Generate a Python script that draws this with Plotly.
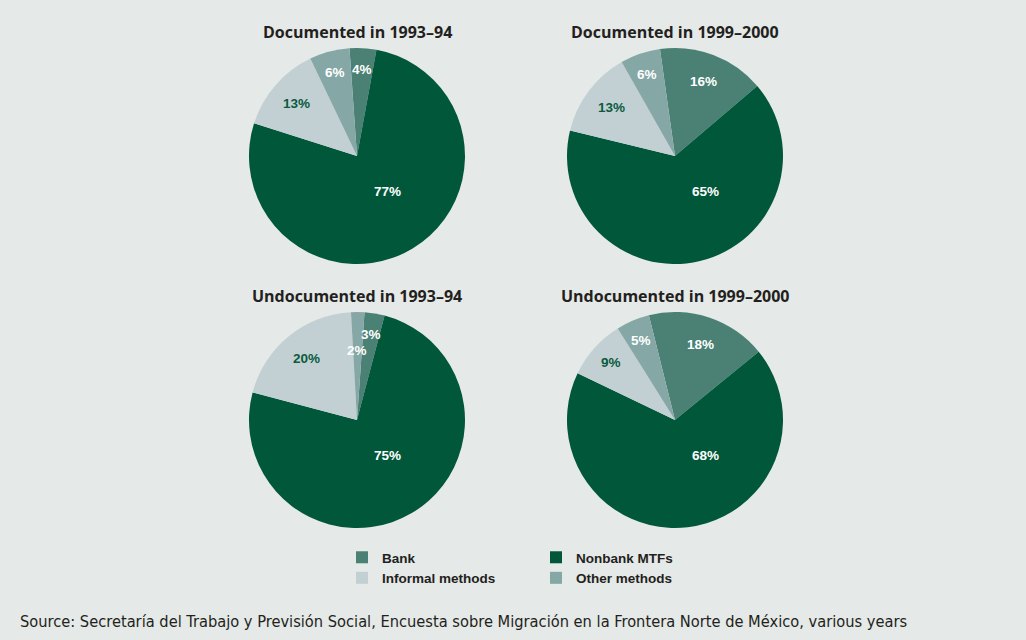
import math
import plotly.graph_objects as go

# Canvas and plot-area geometry (pixels)
W, H = 1026, 640
ML, MR, MT, MB = 249, 243, 0, 0
PW, PH = W - ML - MR, H - MT - MB

# ---- data -------------------------------------------------------------
categories = ["Bank", "Nonbank MTFs", "Informal methods", "Other methods"]
panel_titles = [
    "Documented in 1993–94",
    "Documented in 1999–2000",
    "Undocumented in 1993–94",
    "Undocumented in 1999–2000",
]
doc_1993_94 = [4, 77, 13, 6]
doc_1999_2000 = [16, 65, 13, 6]
undoc_1993_94 = [3, 75, 20, 2]
undoc_1999_2000 = [18, 68, 9, 5]
source_note = ("Source: Secretaría del Trabajo y Previsión Social, Encuesta sobre "
               "Migración en la Frontera Norte de México, various years")

# ---- styling ----------------------------------------------------------
BG = "#e5e9e7"
INK = "#231f20"
slice_colors = ["#4a8174", "#00573a", "#c2d0d4", "#85a7a6"]
label_colors = ["#ffffff", "#ffffff", "#0b5b3e", "#ffffff"]
FONT = "Liberation Sans, Arial, sans-serif"
TITLE_FONT = "Open Sans, Liberation Sans, sans-serif"

# pie boxes: left/top pixel corner, common diameter, start rotation
PIE_D = 216
PIE_R = PIE_D / 2
pie_boxes = [(249, 48), (567, 48), (249, 312), (567, 312)]
rotations = [-4, -8, 4, -14]
TITLE_GAP = 16            # title centre sits this far above the pie's top
MAJOR_LABEL_OFFSET = (30, 35)   # label spot for the dominant slice


def px_x(x):
    return (x - ML) / PW


def px_y(y):
    return 1 - (y - MT) / PH


series = [doc_1993_94, doc_1999_2000, undoc_1993_94, undoc_1999_2000]

fig = go.Figure()
for i, (vals, title, (bx, by), rot) in enumerate(zip(series, panel_titles, pie_boxes, rotations)):
    fig.add_trace(go.Pie(
        labels=categories,
        values=vals,
        sort=False,
        direction="clockwise",
        rotation=rot,
        marker=dict(colors=slice_colors, line=dict(width=0)),
        textinfo="none",
        domain=dict(x=[px_x(bx), px_x(bx + PIE_D)], y=[px_y(by + PIE_D), px_y(by)]),
        hoverinfo="skip",
        showlegend=(i == 0),
    ))

    cx, cy = bx + PIE_R, by + PIE_R
    fig.add_annotation(
        text=title, xref="paper", yref="paper",
        x=px_x(cx), y=px_y(by - TITLE_GAP), xanchor="center", yanchor="middle",
        showarrow=False,
        font=dict(family=TITLE_FONT, size=16, color=INK, weight="bold"),
    )

    # percentage labels at each slice's mid-angle
    total = sum(vals)
    biggest = vals.index(max(vals))
    cum = 0
    for j, v in enumerate(vals):
        mid = math.radians(rot + 360 * (cum + v / 2) / total)
        cum += v
        if j == biggest:
            dx, dy = MAJOR_LABEL_OFFSET
        else:
            rf = 0.64 if v < 3 else (0.80 if v < 12 else 0.74)
            dx, dy = rf * PIE_R * math.sin(mid), -rf * PIE_R * math.cos(mid)
        fig.add_annotation(
            text=f"{v}%", xref="paper", yref="paper",
            x=px_x(cx + dx), y=px_y(cy + dy), xanchor="center", yanchor="middle",
            showarrow=False,
            font=dict(family=FONT, size=13.5, color=label_colors[j], weight="bold"),
        )

fig.add_annotation(
    text=source_note, xref="paper", yref="paper",
    x=px_x(18), y=px_y(621), xanchor="left", yanchor="middle",
    showarrow=False, font=dict(family="Liberation Sans Narrow, DejaVu Sans Condensed, sans-serif",
                               size=16.3, color=INK),
)

fig.update_layout(
    width=W, height=H,
    margin=dict(l=ML, r=MR, t=MT, b=MB, pad=0),
    paper_bgcolor=BG, plot_bgcolor=BG,
    legend=dict(
        orientation="h", traceorder="normal",
        x=px_x(342), y=px_y(542), xanchor="left", yanchor="top",
        entrywidth=149, entrywidthmode="pixels",
        bgcolor="rgba(0,0,0,0)", borderwidth=0,
        font=dict(family=FONT, size=13.5, color=INK, weight="bold"),
    ),
)

fig.write_html("out.html")
